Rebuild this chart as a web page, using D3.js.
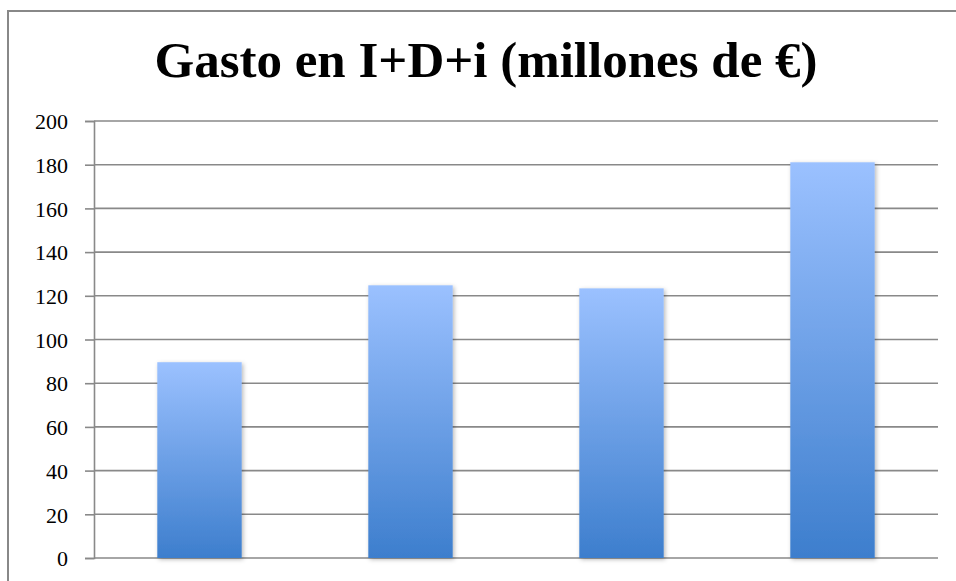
<!DOCTYPE html>
<html>
<head>
<meta charset="utf-8">
<script src="https://cdn.jsdelivr.net/npm/d3@7"></script>
<style>
body { margin: 0; background: #fff; }
svg { display: block; }
.axis text { font-family: "Liberation Serif", "DejaVu Serif", serif; font-size: 22px; fill: #000; }
</style>
</head>
<body>
<script>
// Data
var categories = ["1", "2", "3", "4"];
var values = [89.6, 124.8, 123.4, 181.1];
var yTicks = [0, 20, 40, 60, 80, 100, 120, 140, 160, 180, 200];
var title = "Gasto en I+D+i (millones de €)";

var data = categories.map(function(c, i) {
	return { name : c, value : values[i] };
});

var W = 956, H = 581;
var margin = { top : 121, right : 18, bottom : 23, left : 94 },
	width = W - margin.left - margin.right,
	height = H - margin.top - margin.bottom;

var svg = d3.select("body").append("svg").attr("width", W).attr("height", H);

var defs = svg.append("defs");
var grad = defs.append("linearGradient").attr("id", "barGrad")
	.attr("x1", 0).attr("y1", 0).attr("x2", 0).attr("y2", 1);
grad.append("stop").attr("offset", "0%").attr("stop-color", "#9bc1ff");
grad.append("stop").attr("offset", "100%").attr("stop-color", "#3d7ecd");

var shadow = defs.append("filter").attr("id", "shadow")
	.attr("x", "-20%").attr("y", "-10%").attr("width", "140%").attr("height", "120%");
shadow.append("feDropShadow").attr("dx", 1.5).attr("dy", 1.5)
	.attr("stdDeviation", 2).attr("flood-color", "#000").attr("flood-opacity", 0.28);

// outer chart frame (runs off the page right and bottom)
svg.append("rect").attr("x", 8).attr("y", 11).attr("width", 956).attr("height", 620)
	.attr("fill", "none").attr("stroke", "#888").attr("stroke-width", 2);

// title
var t = svg.append("text").attr("x", 486).attr("y", 77)
	.attr("text-anchor", "middle")
	.style("font-family", "'Liberation Serif', 'DejaVu Serif', serif")
	.style("font-weight", "bold").style("font-size", "51px")
	.text(title);
var tw = t.node().getComputedTextLength();
if (Math.abs(tw - 662) > 4) t.attr("textLength", 662).attr("lengthAdjust", "spacingAndGlyphs");

var g = svg.append("g").attr("transform", "translate(" + margin.left + "," + margin.top + ")");

var x = d3.scaleBand().domain(categories).range([0, width])
	.paddingInner(0.6).paddingOuter(0.3);

var y = d3.scaleLinear().domain([0, 200]).range([height, 0]);

// gridlines
g.append("g").selectAll("line").data(yTicks).enter().append("line")
	.attr("x1", 0).attr("x2", width)
	.attr("y1", function(d) { return y(d); }).attr("y2", function(d) { return y(d); })
	.attr("stroke", "#898989").attr("stroke-width", 1.6);

// y axis
var yAxis = d3.axisLeft(y).tickValues(yTicks).tickSize(9).tickPadding(17);
var ya = g.append("g").attr("class", "axis").call(yAxis);
ya.select(".domain").attr("stroke", "#898989").attr("stroke-width", 1.6);
ya.selectAll(".tick line").attr("stroke", "#898989").attr("stroke-width", 1.6);
ya.selectAll(".tick text").attr("dy", "0.35em");

// bars
g.selectAll(".bar").data(data).enter().append("rect")
	.attr("class", "bar")
	.attr("x", function(d) { return x(d.name); })
	.attr("width", x.bandwidth())
	.attr("y", function(d) { return y(d.value); })
	.attr("height", function(d) { return height - y(d.value); })
	.attr("fill", "url(#barGrad)")
	.attr("filter", "url(#shadow)");
</script>
</body>
</html>
